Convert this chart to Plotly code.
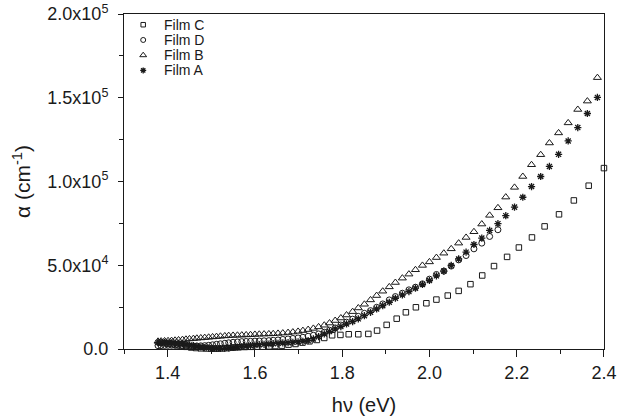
import plotly.graph_objects as go

# ---------------- data ----------------
# photon energy grid (eV) shared by films A, B, D
energy = [1.378, 1.385, 1.393, 1.401, 1.409, 1.417, 1.425, 1.434, 1.442, 1.450,
          1.459, 1.467, 1.476, 1.485, 1.494, 1.503, 1.512, 1.521, 1.531, 1.540,
          1.550, 1.560, 1.570, 1.580, 1.590, 1.600, 1.610, 1.621, 1.632, 1.642,
          1.653, 1.664, 1.676, 1.687, 1.699, 1.710, 1.722, 1.734, 1.746, 1.759,
          1.771, 1.784, 1.797, 1.810, 1.824, 1.837, 1.851, 1.865, 1.879, 1.893,
          1.908, 1.922, 1.938, 1.953, 1.968, 1.984, 2.000, 2.016, 2.033, 2.050,
          2.067, 2.084, 2.102, 2.120, 2.138, 2.157, 2.175, 2.195, 2.214, 2.234,
          2.255, 2.275, 2.296, 2.318, 2.340, 2.362, 2.385]

film_b = [4600, 4700, 4800, 4900, 5000, 5200, 5400, 5600, 5800, 6000,
          6200, 6400, 6600, 6800, 7000, 7200, 7400, 7600, 7800, 8000,
          8100, 8200, 8300, 8400, 8500, 8700, 8800, 8900, 9000, 9100,
          9300, 9500, 9800, 10100, 10500, 11000, 11600, 12300, 13200, 14200,
          15500, 17000, 18500, 20300, 22300, 24500, 26700, 29300, 31900, 34500,
          37100, 39700, 42300, 44700, 47300, 49900, 52000, 54600, 57200, 59800,
          63200, 66600, 70000, 74600, 79800, 84300, 90700, 96500, 103000, 110000,
          116000, 123000, 129000, 135000, 143000, 148000, 162000]

film_a = [3800, 3800, 3800, 3700, 3600, 3500, 3300, 3100, 2800, 2400,
          2000, 1600, 1200, 900, 600, 400, 300, 300, 400, 600,
          900, 1200, 1500, 1800, 2000, 2300, 2600, 2800, 3000, 3200,
          3400, 3600, 3800, 4000, 4200, 4600, 5000, 6000, 7400, 9000,
          10400, 12000, 13400, 15000, 16400, 18000, 19900, 21900, 23900, 25900,
          27900, 30300, 32300, 34300, 36300, 38500, 40900, 43700, 46500, 49900,
          53800, 57800, 62400, 66200, 70800, 74800, 79600, 84700, 90600, 97000,
          103000, 109000, 116200, 124200, 132200, 140600, 150200]

film_d = [2000, 2000, 2100, 2200, 2200, 2200, 2100, 2000, 1900, 1800,
          1800, 1800, 1900, 2000, 2200, 2500, 2800, 3100, 3400, 3700,
          4000, 4200, 4400, 4500, 4600, 4700, 4800, 4900, 5000, 5200,
          5400, 5700, 6000, 6300, 6600, 7000, 7600, 8200, 9000, 10000,
          11200, 12600, 14300, 16000, 17800, 19500, 21300, 22900, 24900, 26900,
          29300, 31300, 33300, 35300, 36900, 38900, 41700, 44500, 46500, 49500,
          53200, 55800, 59800, 63200, 67200, 71200]

energy_c = [1.383, 1.393, 1.402, 1.412, 1.422, 1.433, 1.443, 1.454, 1.465, 1.476,
            1.488, 1.500, 1.512, 1.524, 1.537, 1.550, 1.563, 1.577, 1.591, 1.605,
            1.618, 1.633, 1.647, 1.662, 1.677, 1.693, 1.709, 1.725, 1.742, 1.759,
            1.777, 1.796, 1.815, 1.837, 1.860, 1.880, 1.902, 1.925, 1.946, 1.969,
            1.993, 2.016, 2.042, 2.067, 2.094, 2.121, 2.148, 2.178, 2.205, 2.235,
            2.264, 2.297, 2.331, 2.365, 2.400]

film_c = [3800, 3500, 3200, 2800, 2300, 1800, 1300, 900, 600, 400,
          300, 200, 200, 300, 500, 800, 1000, 1200, 1300, 1400,
          1400, 1600, 1800, 2000, 2600, 3000, 3800, 4600, 5400, 6600,
          8200, 8400, 8800, 8800, 9000, 11000, 14400, 18100, 21900, 24900,
          27300, 29500, 31900, 34700, 38700, 43900, 49500, 55000, 60600, 66600,
          73200, 80400, 88700, 97500, 108000]

legend_labels = ["Film C", "Film D", "Film B", "Film A"]
y_tick_vals = [0, 50000, 100000, 150000, 200000]
y_tick_text = ["0.0", "5.0x10<sup>4</sup>", "1.0x10<sup>5</sup>",
               "1.5x10<sup>5</sup>", "2.0x10<sup>5</sup>"]

# ---------------- styling ----------------
INK = "#1a1a1a"
FONT = "Liberation Sans, Arial, sans-serif"
styles = {
    "Film C": dict(symbol="square-open", size=5.5, line=dict(width=1, color=INK)),
    "Film D": dict(symbol="circle-open", size=6, line=dict(width=1, color=INK)),
    "Film B": dict(symbol="triangle-up-open", size=7, line=dict(width=1, color=INK)),
    "Film A": dict(symbol="asterisk-open", size=6, line=dict(width=1.3, color=INK)),
}

series = {
    "Film C": (energy_c, film_c),
    "Film D": (energy[:len(film_d)], film_d),
    "Film B": (energy, film_b),
    "Film A": (energy, film_a),
}

fig = go.Figure()
for name in ["Film C", "Film D", "Film B", "Film A"]:
    xs, ys = series[name]
    fig.add_trace(go.Scatter(x=xs, y=ys, mode="markers", name=name,
                             marker=dict(color=INK, **styles[name]),
                             cliponaxis=False, showlegend=False))

# manual legend (drawn on an overlay axis spanning 0..1)
leg_x, leg_top, leg_step = 0.040, 0.968, 0.0455
for i, name in enumerate(legend_labels):
    st = dict(styles[name])
    st["size"] = st["size"] - 1
    fig.add_trace(go.Scatter(x=[leg_x], y=[leg_top - i * leg_step], mode="markers",
                             marker=dict(color=INK, **st), xaxis="x2", yaxis="y2",
                             showlegend=False, hoverinfo="skip"))
    fig.add_annotation(x=leg_x + 0.040, y=leg_top - i * leg_step, xref="x2", yref="y2",
                       text=name, showarrow=False, xanchor="left", yanchor="middle",
                       font=dict(family=FONT, size=14, color=INK))

fig.update_layout(
    width=617, height=416,
    margin=dict(l=124, r=13, t=14, b=67),
    paper_bgcolor="white", plot_bgcolor="white",
    font=dict(family=FONT, size=18, color=INK),
    xaxis=dict(range=[1.3, 2.4001], tickmode="linear", tick0=1.4, dtick=0.2,
               tickformat=".1f", ticks="outside", ticklen=7, tickwidth=1,
               tickcolor=INK, showline=True, linecolor=INK, linewidth=1,
               mirror=True, showgrid=False, zeroline=False, automargin=False,
               minor=dict(tickmode="linear", tick0=1.3, dtick=0.1, ticks="outside",
                          ticklen=4, tickcolor=INK, showgrid=False),
               title=dict(text="hν (eV)", font=dict(size=20), standoff=18)),
    yaxis=dict(range=[0, 200000], tickmode="array", tickvals=y_tick_vals,
               ticktext=y_tick_text, ticks="outside", ticklen=5, tickwidth=1,
               ticklabelstandoff=6,
               tickcolor=INK, showline=True, linecolor=INK, linewidth=1,
               mirror=True, showgrid=False, zeroline=False, automargin=False,
               minor=dict(tickmode="linear", tick0=0, dtick=25000, ticks="outside",
                          ticklen=4, tickcolor=INK, showgrid=False),
               title=dict(text="α (cm<sup>-1</sup>)", font=dict(size=21), standoff=10)),
    xaxis2=dict(overlaying="x", range=[0, 1], visible=False, fixedrange=True),
    yaxis2=dict(overlaying="y", range=[0, 1], visible=False, fixedrange=True),
)

fig.write_html("out.html", config={"displayModeBar": False},
               post_script="document.body.style.margin='0';document.body.style.padding='0';")
